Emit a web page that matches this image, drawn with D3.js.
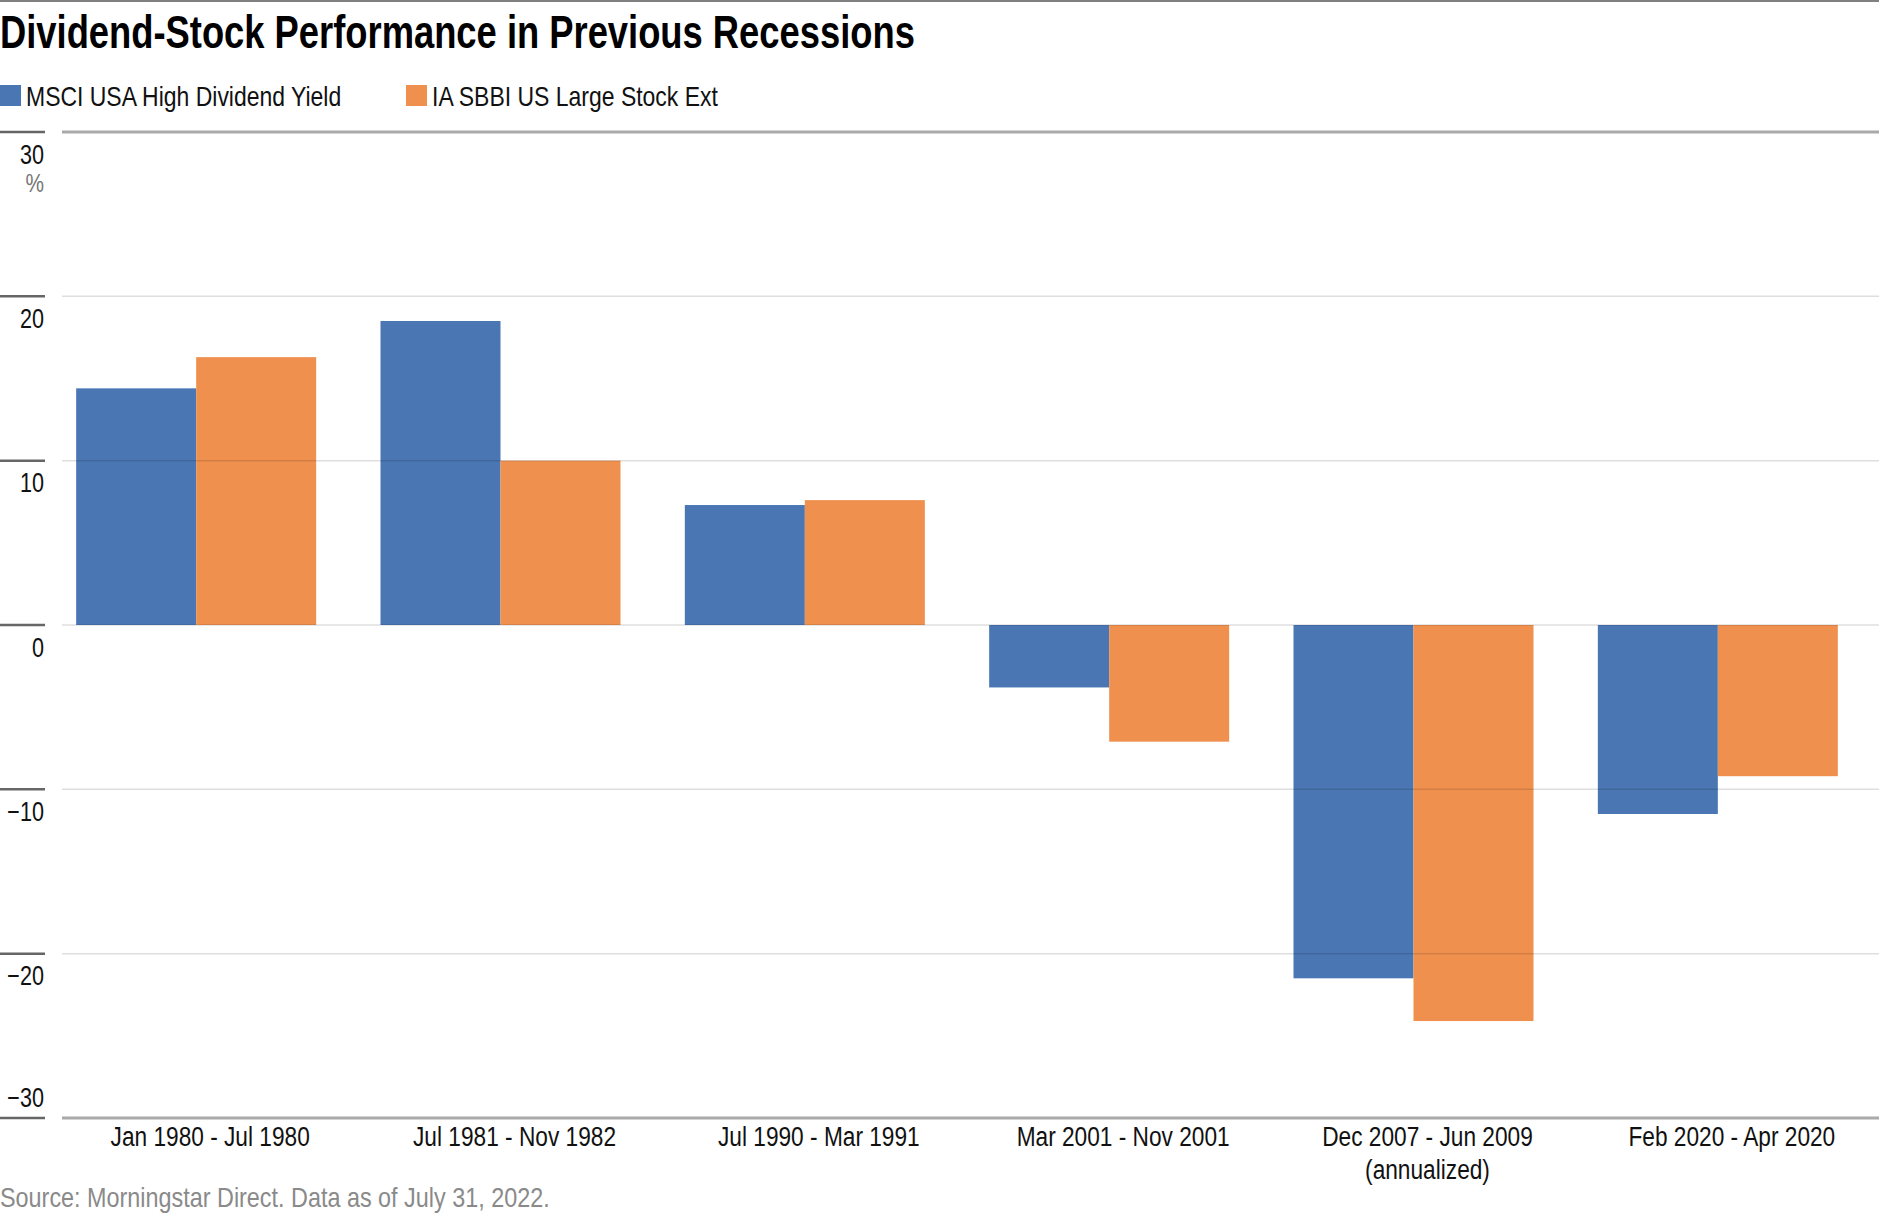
<!DOCTYPE html>
<html>
<head>
<meta charset="utf-8">
<script src="https://cdn.jsdelivr.net/npm/d3@7"></script>
<style>
  body { margin: 0; background: #fff; }
  svg text { font-family: "Liberation Sans", Arial, sans-serif; }
</style>
</head>
<body>
<svg id="chart"></svg>
<script>
// data
const periods = ["Jan 1980 - Jul 1980", "Jul 1981 - Nov 1982", "Jul 1990 - Mar 1991",
                 "Mar 2001 - Nov 2001", "Dec 2007 - Jun 2009\n(annualized)", "Feb 2020 - Apr 2020"];
const seriesNames = ["MSCI USA High Dividend Yield", "IA SBBI US Large Stock Ext"];
const msciValues = [14.4, 18.5, 7.3, -3.8, -21.5, -11.5];
const sbbiValues = [16.3, 10.0, 7.6, -7.1, -24.1, -9.2];
const yTicks = [30, 20, 10, 0, -10, -20, -30];
const colors = ["#4a77b4", "#f0904f"];

const width = 1896, height = 1216;
const margin = {top: 132, bottom: 98, left: 44, right: 26};
const lineEnd = 1879;

// no condensed face installed, so squeeze the glyphs horizontally
function condense(sel, k) {
    sel.each(function() {
        const w = this.getComputedTextLength();
        d3.select(this)
            .attr("textLength", w * k)
            .attr("lengthAdjust", "spacingAndGlyphs");
    });
}

const svg = d3.select("#chart")
    .attr("width", width)
    .attr("height", height);

// top rule
svg.append("line")
    .attr("x1", 0).attr("x2", lineEnd)
    .attr("y1", 1).attr("y2", 1)
    .attr("stroke", "#808080").attr("stroke-width", 2);

// title
svg.append("text")
    .attr("x", 0).attr("y", 48)
    .style("font-size", "46px")
    .style("font-weight", "bold")
    .attr("fill", "#000")
    .text("Dividend-Stock Performance in Previous Recessions")
    .call(condense, 0.79);

// legend
const legend = svg.append("g").attr("transform", "translate(0, 85)");
const legendX = [0, 406];
seriesNames.forEach((name, i) => {
    legend.append("rect")
        .attr("x", legendX[i]).attr("y", 0)
        .attr("width", 21).attr("height", 21)
        .attr("fill", colors[i]);
    legend.append("text")
        .attr("x", legendX[i] + 26).attr("y", 21)
        .style("font-size", "28px")
        .attr("fill", "#111")
        .text(name)
        .call(condense, 0.82);
});

const data = periods.map((p, i) => ({period: p, values: [msciValues[i], sbbiValues[i]]}));

// scales
const x0 = d3.scaleBand()
    .domain(periods)
    .range([margin.left, width - margin.right]);

const x1 = d3.scaleBand()
    .domain([0, 1])
    .range([0, x0.bandwidth()])
    .paddingOuter(0.268);

const y = d3.scaleLinear()
    .domain([-30, 30])
    .range([height - margin.bottom, margin.top]);

// bars
svg.append("g").selectAll("g")
    .data(data)
    .join("g")
        .attr("transform", d => `translate(${x0(d.period)},0)`)
    .selectAll("rect")
    .data(d => d.values.map((v, i) => ({v, i})))
    .join("rect")
        .attr("x", d => x1(d.i))
        .attr("width", x1.bandwidth())
        .attr("y", d => y(Math.max(0, d.v)))
        .attr("height", d => Math.abs(y(d.v) - y(0)))
        .attr("fill", d => colors[d.i]);

// gridlines (on top of bars, faint)
const gridX0 = 62;
svg.append("g").selectAll("line")
    .data(yTicks)
    .join("line")
        .attr("x1", gridX0).attr("x2", lineEnd)
        .attr("y1", d => y(d)).attr("y2", d => y(d))
        .attr("stroke", d => (d === 30 || d === -30) ? "#aaaaaa" : "rgba(0,0,0,0.13)")
        .attr("stroke-width", d => (d === 30 || d === -30) ? 3 : 1.5);

// short tick segments at left
svg.append("g").selectAll("line")
    .data(yTicks)
    .join("line")
        .attr("x1", 0).attr("x2", 45)
        .attr("y1", d => y(d)).attr("y2", d => y(d))
        .attr("stroke", "#666").attr("stroke-width", 2.5);

// y axis labels (under each gridline, except the lowest which sits above)
const yAxis = d3.axisLeft(y)
    .tickValues(yTicks)
    .tickSize(0)
    .tickFormat(d => d < 0 ? "\u2212" + Math.abs(d) : d);

const yAxisGroup = svg.append("g")
    .attr("transform", "translate(44, 0)")
    .call(yAxis);
yAxisGroup.select(".domain").remove();
yAxisGroup.selectAll("text")
    .attr("x", 0)
    .attr("dy", d => d === -30 ? -12 : 31)
    .style("font-size", "27px")
    .style("font-family", "'Liberation Sans', Arial, sans-serif")
    .attr("fill", "#111")
    .call(condense, 0.8);

// percent unit
svg.append("text")
    .attr("x", 44).attr("y", y(30) + 60)
    .attr("text-anchor", "end")
    .style("font-size", "26px")
    .attr("fill", "#777")
    .text("%")
    .call(condense, 0.8);

// x axis labels
const xAxis = d3.axisBottom(x0).tickSize(0).tickFormat("");
const xAxisGroup = svg.append("g")
    .attr("transform", `translate(0, ${y(-30)})`)
    .call(xAxis);
xAxisGroup.select(".domain").remove();
xAxisGroup.selectAll(".tick").append("text")
    .attr("text-anchor", "middle")
    .style("font-size", "27px")
    .attr("fill", "#111")
    .selectAll("tspan")
    .data(d => d.split("\n"))
    .join("tspan")
        .attr("x", 14)
        .attr("y", (d, i) => 28 + i * 33)
        .text(d => d)
        .call(condense, 0.84);

// source note
svg.append("text")
    .attr("x", 0).attr("y", 1207)
    .style("font-size", "28px")
    .attr("fill", "#8a8a8a")
    .text("Source: Morningstar Direct. Data as of July 31, 2022.")
    .call(condense, 0.835);
</script>
</body>
</html>
